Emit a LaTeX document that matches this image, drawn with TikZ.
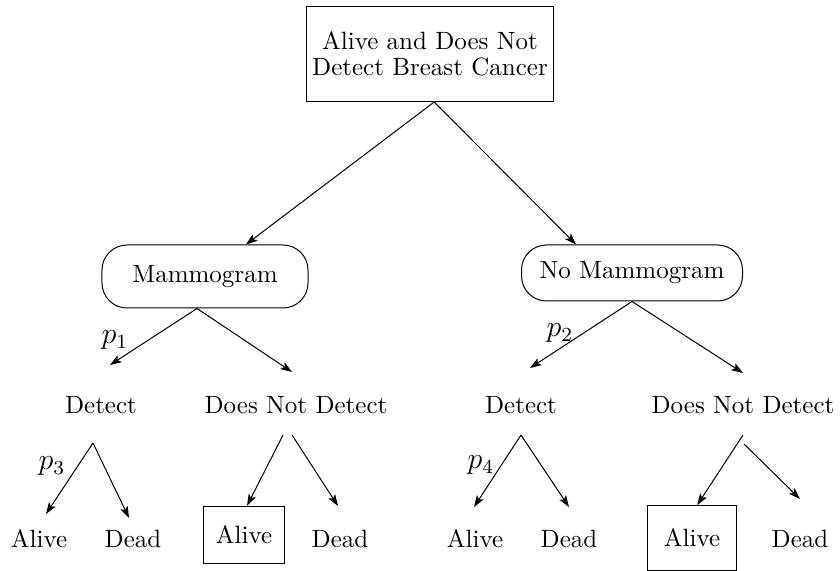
\documentclass[tikz,border=0pt]{standalone}
\usetikzlibrary{positioning,arrows.meta}
\tikzset{
  state/.style={draw,align=center,inner xsep=1pt},
  choice/.style={draw,rounded corners=10pt},
  outcome/.style={draw},
  prob/.style={font=\large}
}

\begin{document}
\begin{tikzpicture}[x=0.4pt,y=-0.4pt,>={Stealth[length=4.6pt,width=3.2pt,inset=1pt]}]
\useasboundingbox (0,0) rectangle (840,571);
\node[state,minimum width=98.8pt,minimum height=38pt] (top) at (430,54)
  {Alive and Does Not\\[-1.5pt]Detect Breast Cancer};
\node[choice,minimum width=82.4pt,minimum height=25.2pt] (mam) at (205,276.5) {Mammogram};
\node[choice,minimum width=88.4pt,minimum height=22.4pt] (nomam) at (632,273) {No Mammogram};
\node foreach \name/\x/\txt in {det1/101/Detect,dnd1/296/Does Not Detect,
  det2/521/Detect,dnd2/743/Does Not Detect}
(\name) at (\x,405) {\txt};
\node (al1) at (39,539) {Alive};
\node (de1) at (133,539) {Dead};
\node[outcome,minimum width=32.4pt,minimum height=23pt] (al2) at (244,535) {Alive};
\node (de2) at (340,539) {Dead};
\node (al3) at (475,539) {Alive};
\node (de3) at (569,539) {Dead};
\node[outcome,minimum width=35.6pt,minimum height=26pt] (al4) at (692,538) {Alive};
\node (de4) at (800,539) {Dead};
\node[prob] (p1) at (115,340) {$p_1$};
\node[prob] (p2) at (560,333) {$p_2$};
\node[prob] (p3) at (52,466) {$p_3$};
\node[prob] (p4) at (481,465) {$p_4$};
% free ends of the branches
\coordinate (m1) at (110,365);
\coordinate (m2) at (292,372);
\coordinate (n1) at (530,368);
\coordinate (n2) at (743,373);
\coordinate (s1) at (93,443);
\coordinate (s2a) at (283,435);
\coordinate (s2b) at (292,435);
\coordinate (s3) at (521,435);
\coordinate (s4a) at (743,435);
\coordinate (s4b) at (744,444);
\coordinate (t1) at (46,514);
\coordinate (t2) at (129,518);
\coordinate (t4) at (338,506);
\coordinate (t5) at (474,507);
\coordinate (t6) at (569,507);
\coordinate (t8) at (800,499);
\path[->] (top.-85) edge (mam.38)
edge (nomam.153)
(mam.-104) edge (m1)
edge (m2)
(nomam.south) edge (n1)
edge (n2)
(s1) edge (t1)
edge (t2)
(s2a) edge (al2.84)
(s2b) edge (t4)
(s3) edge (t5)
edge (t6)
(s4a) edge (al4.81)
(s4b) edge (t8);
\end{tikzpicture}
\end{document}
